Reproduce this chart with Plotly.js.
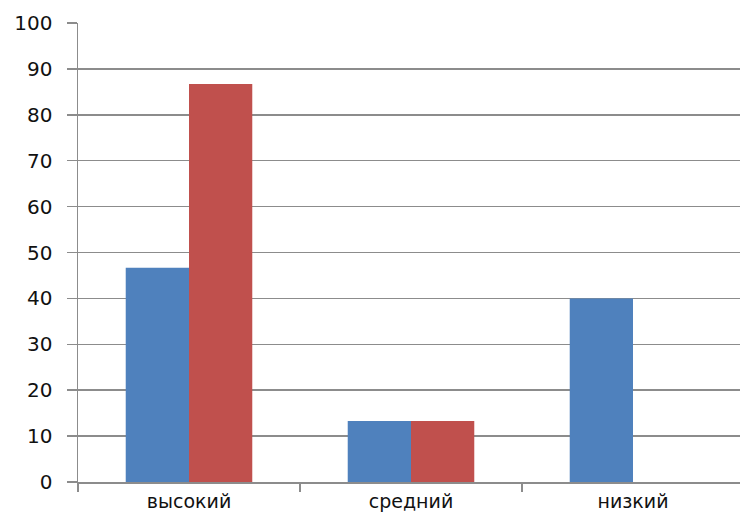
<!DOCTYPE html>
<html>
<head>
<meta charset="utf-8">
<script src="https://cdn.plot.ly/plotly-3.0.1.min.js"></script>
<style>html,body{margin:0;padding:0;overflow:hidden;background:#fff;}</style>
</head>
<body>
<div id="chart" style="width:740px;height:517px;"></div>
<script>
const categories = ["высокий", "средний", "низкий"];
const series1 = [46.7, 13.3, 40];
const series2 = [86.7, 13.3, 0];
const yTicks = [0, 10, 20, 30, 40, 50, 60, 70, 80, 90, 100];

const data = [
  {type: "bar", x: categories, y: series1, name: "Ряд1",
   marker: {color: "#4f81bd", line: {width: 0}}},
  {type: "bar", x: categories, y: series2, name: "Ряд2",
   marker: {color: "#c0504d", line: {width: 0}}}
];

const font = {family: "DejaVu Sans, Verdana, sans-serif", size: 20, color: "#111111"};
const xfont = {family: "DejaVu Sans, Verdana, sans-serif", size: 19, color: "#111111"};

const layout = {
  width: 740, height: 517,
  margin: {l: 78, r: 0, t: 23, b: 35, pad: 0},
  paper_bgcolor: "#fff", plot_bgcolor: "#fff",
  showlegend: false,
  barmode: "group",
  bargap: 0.43, bargroupgap: 0,
  font: font,
  xaxis: {
    type: "category",
    range: [-0.5, 2.482],
    showgrid: false,
    showline: true, linecolor: "#8c8c8c", linewidth: 1.5,
    ticks: "outside", tickson: "boundaries", ticklen: 8, tickcolor: "#8c8c8c", tickwidth: 1.5,
    tickfont: xfont,
    ticklabelstandoff: 2,
    fixedrange: true
  },
  yaxis: {
    range: [0, 100],
    tickvals: yTicks,
    ticktext: yTicks.map(String),
    showgrid: true, gridcolor: "#8c8c8c", gridwidth: 1.5,
    zeroline: false,
    showline: true, linecolor: "#8c8c8c", linewidth: 1.5,
    ticks: "outside", ticklen: 10, tickcolor: "#8c8c8c", tickwidth: 1.5,
    tickfont: font,
    ticklabelstandoff: 10,
    fixedrange: true
  }
};

Plotly.newPlot("chart", data, layout, {displayModeBar: false, staticPlot: true});
</script>
</body>
</html>
